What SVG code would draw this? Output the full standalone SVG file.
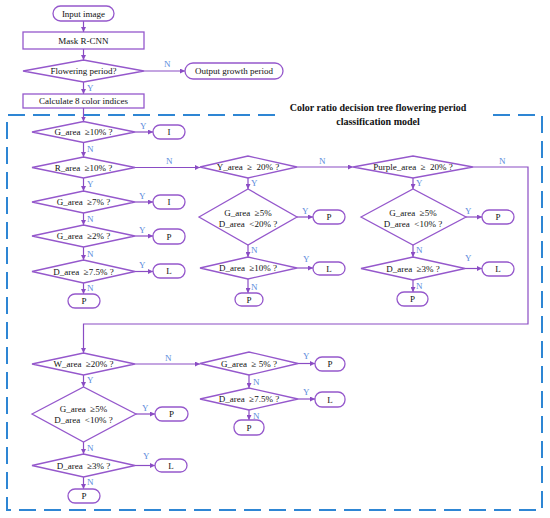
<svg xmlns="http://www.w3.org/2000/svg" width="550" height="518" viewBox="0 0 550 518">
<defs>
<marker id="ah" viewBox="0 0 6 6" refX="6" refY="3" markerWidth="5" markerHeight="5" markerUnits="userSpaceOnUse" orient="auto"><path d="M0,0 L6,3 L0,6 z" fill="#8A4CC4"/></marker>
<style>
.n{fill:#fff;stroke:#9558CC;stroke-width:1.3}
.t{font-family:"Liberation Serif","Times New Roman",serif;font-size:9px;fill:#111;text-anchor:middle;white-space:pre}
.c{fill:none;stroke:#8A4CC4;stroke-width:1.2}
.a{marker-end:url(#ah)}
.l{font-family:"Liberation Serif","Times New Roman",serif;font-size:9px;fill:#5B8BDC}
.d{fill:none;stroke:#2E86D4;stroke-width:2;stroke-dasharray:17 8}
.h{font-family:"Liberation Serif","Times New Roman",serif;font-size:10px;font-weight:bold;fill:#111;text-anchor:middle}
</style>
</defs>
<rect width="550" height="518" fill="#fff"/>
<path class="d" d="M275,115 L7,115 L7,510 L542,510 L542,115 L485,115"/>
<text class="h" x="378" y="111">Color ratio decision tree flowering period</text>
<text class="h" x="378" y="125">classification model</text>
<g id="connectors">
<path class="c a" d="M83.5,21 V32"/>
<path class="c a" d="M83.5,49 V60"/>
<path class="c a" d="M144,71 H185"/>
<path class="c a" d="M83.5,82 V94"/>
<path class="c a" d="M83.5,108 V121.5"/>
<path class="c a" d="M135,132 H153"/>
<path class="c a" d="M83.5,142.5 V157"/>
<path class="c a" d="M135,167.5 H200"/>
<path class="c a" d="M83.5,178 V191"/>
<path class="c a" d="M135,202 H153"/>
<path class="c a" d="M83.5,213 V225"/>
<path class="c a" d="M135,236 H153"/>
<path class="c a" d="M83.5,247 V260"/>
<path class="c a" d="M135,271.5 H153"/>
<path class="c a" d="M83.5,283 V294"/>
<path class="c a" d="M297,167 H353"/>
<path class="c a" d="M248,178 V189"/>
<path class="c a" d="M297,217 H313"/>
<path class="c a" d="M248,245 V257"/>
<path class="c a" d="M297,268 H313"/>
<path class="c a" d="M248,279 V293"/>
<path class="c a" d="M473,167 H528 V324 H83.5 V353"/>
<path class="c a" d="M413,178 V189"/>
<path class="c a" d="M466,217 H482"/>
<path class="c a" d="M413,245 V257"/>
<path class="c a" d="M465,268.5 H482"/>
<path class="c a" d="M413,280 V292"/>
<path class="c a" d="M135,364 H200"/>
<path class="c a" d="M298,363.5 H315"/>
<path class="c a" d="M249,375 V388"/>
<path class="c a" d="M298,399 H315"/>
<path class="c a" d="M249,410 V420"/>
<path class="c a" d="M83.5,375 V387"/>
<path class="c a" d="M136,414 H155"/>
<path class="c a" d="M83.5,442 V454"/>
<path class="c a" d="M135,465.5 H155"/>
<path class="c a" d="M83.5,477 V489"/>
<text class="l" x="164" y="67">N</text>
<text class="l" x="87" y="91">Y</text>
<text class="l" x="140" y="129">Y</text>
<text class="l" x="87" y="152">N</text>
<text class="l" x="166" y="164">N</text>
<text class="l" x="87" y="187">Y</text>
<text class="l" x="139" y="199">Y</text>
<text class="l" x="87" y="222">N</text>
<text class="l" x="139" y="233">Y</text>
<text class="l" x="87" y="257">N</text>
<text class="l" x="139" y="268">Y</text>
<text class="l" x="87" y="291">N</text>
<text class="l" x="319" y="164">N</text>
<text class="l" x="251" y="186">Y</text>
<text class="l" x="302" y="214">Y</text>
<text class="l" x="251" y="253">N</text>
<text class="l" x="303" y="262">Y</text>
<text class="l" x="251" y="290">N</text>
<text class="l" x="499" y="164">N</text>
<text class="l" x="416" y="186">Y</text>
<text class="l" x="465" y="214">Y</text>
<text class="l" x="416" y="253">N</text>
<text class="l" x="465" y="261">Y</text>
<text class="l" x="416" y="289">N</text>
<text class="l" x="165" y="361">N</text>
<text class="l" x="303" y="359">Y</text>
<text class="l" x="253" y="385">N</text>
<text class="l" x="303" y="395">Y</text>
<text class="l" x="253" y="419">N</text>
<text class="l" x="87" y="383">Y</text>
<text class="l" x="142" y="411">Y</text>
<text class="l" x="87" y="451">N</text>
<text class="l" x="143" y="459">Y</text>
<text class="l" x="87" y="485">N</text>
</g>
<g id="input"><rect class="n" x="53" y="6" width="61" height="15" rx="7.5"/><text class="t" x="83.5" y="16.5">Input image</text></g>
<g id="mask"><rect class="n" x="23" y="32" width="121" height="17"/><text class="t" x="83.5" y="43.5">Mask R-CNN</text></g>
<g id="flowering"><polygon class="n" points="23,71 83.5,60 144,71 83.5,82"/><text class="t" x="83.5" y="74">Flowering period?</text></g>
<g id="output"><rect class="n" x="185" y="63" width="98" height="16" rx="8"/><text class="t" x="234" y="74">Output growth period</text></g>
<g id="calc"><rect class="n" x="23" y="94" width="121" height="14"/><text class="t" x="83.5" y="104">Calculate 8 color indices</text></g>

<g id="g10"><polygon class="n" points="32,132 83.5,121.5 135,132 83.5,142.5"/><text class="t" x="83.5" y="135">G_area  ≥10% ?</text></g>
<g id="i1"><rect class="n" x="153" y="125" width="32" height="14" rx="7"/><text class="t" x="169" y="135">I</text></g>
<g id="r10"><polygon class="n" points="32,167.5 83.5,157 135,167.5 83.5,178"/><text class="t" x="83.5" y="170.5">R_area  ≥10% ?</text></g>
<g id="g7"><polygon class="n" points="32,202 83.5,191 135,202 83.5,213"/><text class="t" x="83.5" y="205">G_area  ≥7% ?</text></g>
<g id="i2"><rect class="n" x="153" y="195" width="32" height="14" rx="7"/><text class="t" x="169" y="205">I</text></g>
<g id="g2"><polygon class="n" points="32,236 83.5,225 135,236 83.5,247"/><text class="t" x="83.5" y="239">G_area  ≥2% ?</text></g>
<g id="p1"><rect class="n" x="153" y="229" width="32" height="15" rx="7"/><text class="t" x="169" y="239.5">P</text></g>
<g id="d75a"><polygon class="n" points="32,271.5 83.5,260 135,271.5 83.5,283"/><text class="t" x="83.5" y="274.5">D_area  ≥7.5% ?</text></g>
<g id="l1"><rect class="n" x="153" y="264" width="32" height="14" rx="7"/><text class="t" x="169" y="274">L</text></g>
<g id="p2"><rect class="n" x="68" y="294" width="32" height="14" rx="7"/><text class="t" x="84" y="304">P</text></g>

<g id="y20"><polygon class="n" points="200,167 248,156 297,167 248,178"/><text class="t" x="248" y="170">Y_area  ≥  20% ?</text></g>
<g id="gd20"><polygon class="n" points="199,217 248,189 297,217 248,245"/><text class="t" x="248" y="216">G_area  ≥5%</text><text class="t" x="248" y="227">D_area  &lt;20% ?</text></g>
<g id="p3"><rect class="n" x="313" y="210" width="32" height="14" rx="7"/><text class="t" x="329" y="220">P</text></g>
<g id="d10"><polygon class="n" points="200,268 248,257 297,268 248,279"/><text class="t" x="248" y="271">D_area  ≥10% ?</text></g>
<g id="l2"><rect class="n" x="313" y="262" width="32" height="13" rx="6.5"/><text class="t" x="329" y="271.5">L</text></g>
<g id="p4"><rect class="n" x="235" y="293" width="28" height="13" rx="6.5"/><text class="t" x="249" y="302.5">P</text></g>

<g id="purple"><polygon class="n" points="353,167 413,156 473,167 413,178"/><text class="t" x="413" y="170">Purple_area  ≥  20% ?</text></g>
<g id="gd10a"><polygon class="n" points="361,217 413,189 466,217 413,245"/><text class="t" x="413" y="216">G_area  ≥5%</text><text class="t" x="413" y="227">D_area  &lt;10% ?</text></g>
<g id="p5"><rect class="n" x="482" y="210" width="32" height="14" rx="7"/><text class="t" x="498" y="220">P</text></g>
<g id="d3a"><polygon class="n" points="361,268.5 413,257 465,268.5 413,280"/><text class="t" x="413" y="271.5">D_area  ≥3% ?</text></g>
<g id="l3"><rect class="n" x="482" y="262" width="32" height="14" rx="7"/><text class="t" x="498" y="272">L</text></g>
<g id="p6"><rect class="n" x="397" y="292" width="31" height="14" rx="7"/><text class="t" x="412.5" y="302">P</text></g>

<g id="w20"><polygon class="n" points="32,364 83.5,353 135,364 83.5,375"/><text class="t" x="83.5" y="367">W_area  ≥20% ?</text></g>
<g id="g5"><polygon class="n" points="200,363.5 249,352 298,363.5 249,375"/><text class="t" x="249" y="366.5">G_area  ≥ 5% ?</text></g>
<g id="p7"><rect class="n" x="315" y="357" width="30" height="14" rx="7"/><text class="t" x="330" y="367">P</text></g>
<g id="d75b"><polygon class="n" points="200,399 249,388 298,399 249,410"/><text class="t" x="249" y="402">D_area  ≥7.5% ?</text></g>
<g id="l4"><rect class="n" x="315" y="392" width="30" height="15" rx="7"/><text class="t" x="330" y="402.5">L</text></g>
<g id="p8"><rect class="n" x="234" y="420" width="30" height="15" rx="7"/><text class="t" x="249" y="430.5">P</text></g>
<g id="gd10b"><polygon class="n" points="32,414 83.5,387 136,414 83.5,442"/><text class="t" x="83.5" y="412">G_area  ≥5%</text><text class="t" x="83.5" y="423">D_area  &lt;10% ?</text></g>
<g id="p9"><rect class="n" x="155" y="407" width="33" height="14" rx="7"/><text class="t" x="171.5" y="417">P</text></g>
<g id="d3b"><polygon class="n" points="32,465.5 83.5,454 135,465.5 83.5,477"/><text class="t" x="83.5" y="468.5">D_area  ≥3% ?</text></g>
<g id="l5"><rect class="n" x="155" y="459" width="32" height="13" rx="6.5"/><text class="t" x="171" y="468.5">L</text></g>
<g id="p10"><rect class="n" x="68" y="489" width="32" height="14" rx="7"/><text class="t" x="84" y="499">P</text></g>
</svg>
